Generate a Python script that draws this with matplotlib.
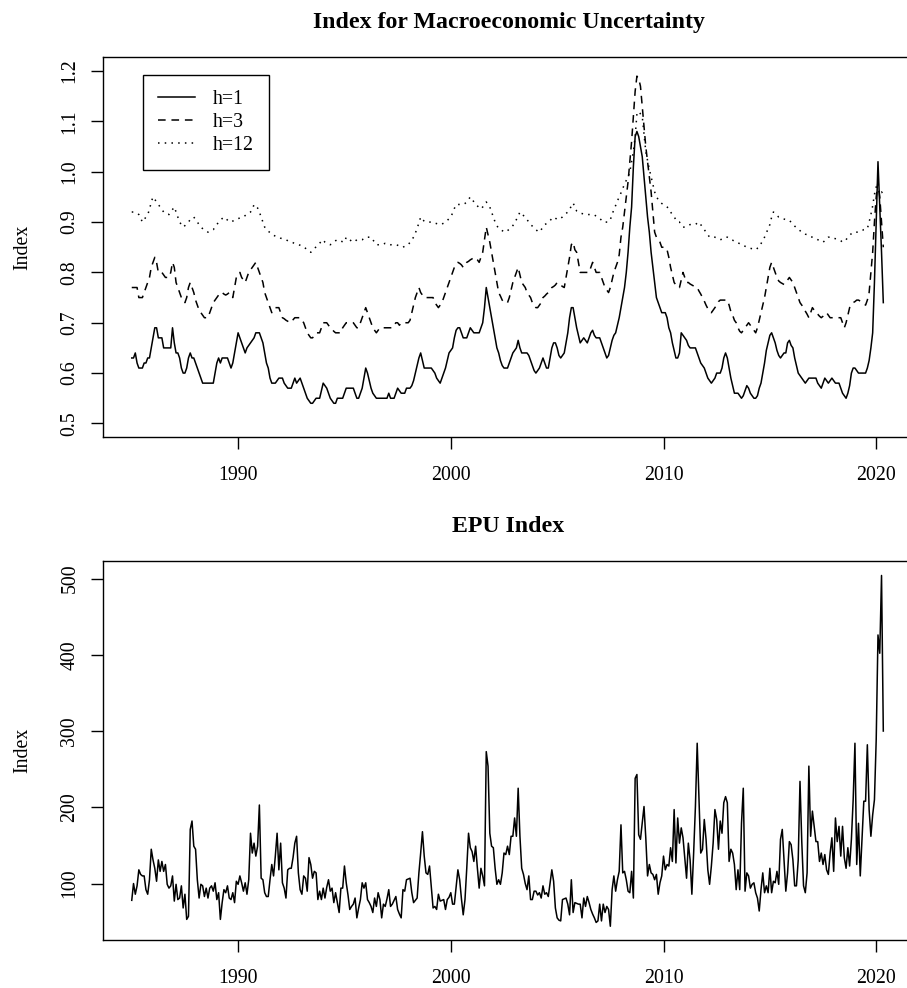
#!/usr/bin/env python3

import numpy as np
import matplotlib
matplotlib.use('Agg')
import matplotlib.pyplot as plt

plt.rcParams['font.family'] = ['Liberation Serif', 'DejaVu Serif']

# monthly values from Jan 1985 to May 2020, one row per year
h1 = [
    0.63, 0.63, 0.64, 0.62, 0.61, 0.61, 0.61, 0.62, 0.62, 0.63, 0.63, 0.65,
    0.67, 0.69, 0.69, 0.67, 0.67, 0.67, 0.65, 0.65, 0.65, 0.65, 0.65, 0.69,
    0.66, 0.64, 0.64, 0.63, 0.61, 0.60, 0.60, 0.61, 0.63, 0.64, 0.63, 0.63,
    0.62, 0.61, 0.60, 0.59, 0.58, 0.58, 0.58, 0.58, 0.58, 0.58, 0.58, 0.60,
    0.62, 0.63, 0.62, 0.63, 0.63, 0.63, 0.63, 0.62, 0.61, 0.62, 0.64, 0.66,
    0.68, 0.67, 0.66, 0.65, 0.64, 0.65, 0.655, 0.66, 0.665, 0.67, 0.68, 0.68,
    0.68, 0.67, 0.66, 0.64, 0.62, 0.61, 0.59, 0.58, 0.58, 0.58, 0.585, 0.59,
    0.59, 0.59, 0.58, 0.575, 0.57, 0.57, 0.57, 0.58, 0.59, 0.58, 0.585, 0.59,
    0.58, 0.57, 0.56, 0.55, 0.545, 0.54, 0.54, 0.545, 0.55, 0.55, 0.55, 0.565,
    0.58, 0.575, 0.57, 0.56, 0.55, 0.545, 0.54, 0.54, 0.55, 0.55, 0.55, 0.55,
    0.56, 0.57, 0.57, 0.57, 0.57, 0.57, 0.56, 0.55, 0.55, 0.56, 0.57, 0.59,
    0.61, 0.60, 0.585, 0.57, 0.56, 0.555, 0.55, 0.55, 0.55, 0.55, 0.55, 0.55,
    0.55, 0.56, 0.55, 0.55, 0.55, 0.56, 0.57, 0.565, 0.56, 0.56, 0.56, 0.57,
    0.57, 0.57, 0.575, 0.585, 0.60, 0.615, 0.63, 0.64, 0.625, 0.61, 0.61, 0.61,
    0.61, 0.61, 0.605, 0.60, 0.59, 0.585, 0.58, 0.59, 0.60, 0.61, 0.625, 0.64,
    0.645, 0.65, 0.67, 0.685, 0.69, 0.69, 0.68, 0.67, 0.67, 0.67, 0.68, 0.69,
    0.685, 0.68, 0.68, 0.68, 0.68, 0.69, 0.70, 0.73, 0.77, 0.75, 0.73, 0.71,
    0.69, 0.67, 0.65, 0.64, 0.625, 0.615, 0.61, 0.61, 0.61, 0.62, 0.63, 0.64,
    0.645, 0.65, 0.665, 0.65, 0.64, 0.64, 0.64, 0.64, 0.635, 0.625, 0.615, 0.605,
    0.60, 0.605, 0.61, 0.62, 0.63, 0.62, 0.61, 0.61, 0.63, 0.65, 0.66, 0.66,
    0.65, 0.635, 0.63, 0.635, 0.64, 0.66, 0.68, 0.71, 0.73, 0.73, 0.71, 0.69,
    0.675, 0.66, 0.665, 0.67, 0.665, 0.66, 0.67, 0.68, 0.685, 0.675, 0.67, 0.67,
    0.67, 0.66, 0.65, 0.64, 0.63, 0.635, 0.65, 0.665, 0.675, 0.68, 0.695, 0.71,
    0.73, 0.75, 0.77, 0.80, 0.84, 0.89, 0.93, 1.01, 1.07, 1.08, 1.07, 1.05,
    1.03, 0.99, 0.95, 0.91, 0.88, 0.84, 0.81, 0.78, 0.75, 0.74, 0.73, 0.72,
    0.72, 0.72, 0.71, 0.69, 0.68, 0.66, 0.645, 0.63, 0.63, 0.64, 0.68, 0.675,
    0.67, 0.665, 0.655, 0.65, 0.65, 0.65, 0.65, 0.64, 0.63, 0.62, 0.615, 0.61,
    0.60, 0.59, 0.585, 0.58, 0.585, 0.59, 0.60, 0.60, 0.60, 0.61, 0.63, 0.64,
    0.63, 0.61, 0.59, 0.575, 0.56, 0.56, 0.56, 0.555, 0.55, 0.555, 0.565, 0.575,
    0.57, 0.56, 0.555, 0.55, 0.55, 0.555, 0.57, 0.58, 0.60, 0.62, 0.645, 0.66,
    0.675, 0.68, 0.67, 0.66, 0.645, 0.635, 0.63, 0.635, 0.64, 0.64, 0.66, 0.665,
    0.655, 0.65, 0.63, 0.615, 0.60, 0.595, 0.59, 0.585, 0.58, 0.585, 0.59, 0.59,
    0.59, 0.59, 0.59, 0.58, 0.575, 0.57, 0.58, 0.59, 0.585, 0.58, 0.585, 0.59,
    0.585, 0.58, 0.58, 0.58, 0.57, 0.56, 0.555, 0.55, 0.56, 0.575, 0.60, 0.61,
    0.61, 0.605, 0.60, 0.60, 0.60, 0.60, 0.60, 0.61, 0.625, 0.65, 0.68, 0.78,
    0.90, 1.02, 0.93, 0.84, 0.74,
]

h3 = [
    0.77, 0.77, 0.77, 0.77, 0.75, 0.75, 0.75, 0.76, 0.77, 0.78, 0.79, 0.81,
    0.82, 0.83, 0.82, 0.80, 0.80, 0.80, 0.795, 0.79, 0.79, 0.79, 0.80, 0.82,
    0.81, 0.78, 0.77, 0.76, 0.75, 0.745, 0.74, 0.75, 0.77, 0.78, 0.77, 0.76,
    0.745, 0.735, 0.725, 0.72, 0.715, 0.71, 0.71, 0.71, 0.72, 0.73, 0.74, 0.745,
    0.75, 0.755, 0.76, 0.76, 0.757, 0.755, 0.757, 0.76, 0.755, 0.75, 0.77, 0.79,
    0.795, 0.80, 0.79, 0.785, 0.78, 0.79, 0.80, 0.805, 0.81, 0.815, 0.82, 0.81,
    0.80, 0.79, 0.78, 0.76, 0.75, 0.74, 0.73, 0.72, 0.725, 0.73, 0.73, 0.73,
    0.72, 0.71, 0.708, 0.705, 0.703, 0.70, 0.703, 0.706, 0.71, 0.71, 0.71, 0.71,
    0.705, 0.70, 0.69, 0.68, 0.675, 0.67, 0.67, 0.675, 0.68, 0.68, 0.68, 0.69,
    0.70, 0.70, 0.70, 0.695, 0.69, 0.687, 0.683, 0.68, 0.68, 0.68, 0.68, 0.69,
    0.695, 0.70, 0.70, 0.70, 0.70, 0.70, 0.695, 0.69, 0.69, 0.70, 0.71, 0.72,
    0.73, 0.72, 0.71, 0.70, 0.69, 0.685, 0.68, 0.685, 0.69, 0.69, 0.69, 0.69,
    0.69, 0.69, 0.69, 0.69, 0.695, 0.70, 0.70, 0.695, 0.70, 0.70, 0.70, 0.70,
    0.70, 0.705, 0.72, 0.735, 0.75, 0.76, 0.77, 0.76, 0.755, 0.75, 0.75, 0.75,
    0.75, 0.75, 0.75, 0.74, 0.735, 0.73, 0.735, 0.74, 0.75, 0.76, 0.77, 0.78,
    0.79, 0.80, 0.81, 0.815, 0.82, 0.818, 0.815, 0.81, 0.815, 0.82, 0.822, 0.825,
    0.827, 0.83, 0.828, 0.825, 0.82, 0.83, 0.84, 0.865, 0.89, 0.875, 0.86, 0.84,
    0.82, 0.80, 0.78, 0.76, 0.753, 0.745, 0.74, 0.74, 0.74, 0.75, 0.765, 0.78,
    0.79, 0.80, 0.81, 0.795, 0.78, 0.775, 0.77, 0.76, 0.755, 0.75, 0.74, 0.735,
    0.73, 0.73, 0.735, 0.74, 0.75, 0.753, 0.757, 0.76, 0.765, 0.77, 0.772, 0.775,
    0.78, 0.777, 0.775, 0.772, 0.77, 0.79, 0.81, 0.83, 0.855, 0.86, 0.845, 0.84,
    0.82, 0.80, 0.80, 0.80, 0.80, 0.80, 0.80, 0.81, 0.82, 0.81, 0.80, 0.80,
    0.80, 0.79, 0.78, 0.77, 0.765, 0.76, 0.77, 0.785, 0.80, 0.81, 0.82, 0.835,
    0.87, 0.89, 0.92, 0.95, 0.98, 1.02, 1.06, 1.11, 1.16, 1.19, 1.185, 1.17,
    1.13, 1.09, 1.05, 1.02, 0.99, 0.96, 0.92, 0.88, 0.87, 0.865, 0.86, 0.85,
    0.85, 0.85, 0.845, 0.83, 0.81, 0.795, 0.78, 0.775, 0.77, 0.77, 0.785, 0.80,
    0.79, 0.78, 0.78, 0.777, 0.775, 0.773, 0.772, 0.77, 0.763, 0.757, 0.75, 0.743,
    0.735, 0.728, 0.722, 0.72, 0.725, 0.73, 0.735, 0.742, 0.745, 0.745, 0.745, 0.745,
    0.745, 0.735, 0.722, 0.715, 0.705, 0.70, 0.69, 0.683, 0.68, 0.685, 0.69, 0.695,
    0.70, 0.695, 0.69, 0.685, 0.68, 0.69, 0.705, 0.72, 0.735, 0.75, 0.77, 0.79,
    0.81, 0.82, 0.81, 0.80, 0.79, 0.783, 0.78, 0.778, 0.776, 0.78, 0.785, 0.79,
    0.785, 0.78, 0.77, 0.76, 0.75, 0.74, 0.735, 0.73, 0.723, 0.717, 0.71, 0.72,
    0.73, 0.725, 0.72, 0.717, 0.713, 0.71, 0.713, 0.717, 0.72, 0.715, 0.71, 0.71,
    0.71, 0.71, 0.71, 0.71, 0.71, 0.70, 0.69, 0.70, 0.715, 0.73, 0.735, 0.74,
    0.742, 0.745, 0.745, 0.743, 0.74, 0.738, 0.735, 0.745, 0.76, 0.80, 0.84, 0.90,
    0.95, 0.98, 0.95, 0.90, 0.85,
]

h12 = [
    0.92, 0.92, 0.918, 0.917, 0.915, 0.908, 0.90, 0.905, 0.91, 0.915, 0.925, 0.94,
    0.95, 0.945, 0.94, 0.935, 0.93, 0.925, 0.92, 0.918, 0.916, 0.915, 0.92, 0.925,
    0.93, 0.92, 0.91, 0.90, 0.895, 0.89, 0.893, 0.897, 0.90, 0.905, 0.907, 0.91,
    0.905, 0.90, 0.895, 0.89, 0.887, 0.884, 0.882, 0.88, 0.882, 0.884, 0.885, 0.89,
    0.895, 0.90, 0.903, 0.907, 0.91, 0.907, 0.904, 0.901, 0.90, 0.902, 0.904, 0.905,
    0.907, 0.908, 0.909, 0.91, 0.913, 0.916, 0.918, 0.92, 0.925, 0.935, 0.932, 0.928,
    0.92, 0.91, 0.90, 0.89, 0.885, 0.882, 0.879, 0.876, 0.874, 0.872, 0.871, 0.87,
    0.868, 0.867, 0.866, 0.865, 0.863, 0.861, 0.86, 0.859, 0.857, 0.856, 0.855, 0.854,
    0.852, 0.851, 0.848, 0.845, 0.842, 0.84, 0.843, 0.847, 0.851, 0.855, 0.858, 0.862,
    0.865, 0.86, 0.858, 0.856, 0.855, 0.857, 0.86, 0.863, 0.865, 0.864, 0.862, 0.861,
    0.86, 0.87, 0.868, 0.865, 0.862, 0.86, 0.862, 0.865, 0.865, 0.865, 0.865, 0.867,
    0.87, 0.87, 0.87, 0.87, 0.865, 0.86, 0.855, 0.855, 0.855, 0.855, 0.856, 0.858,
    0.858, 0.856, 0.855, 0.855, 0.855, 0.855, 0.854, 0.852, 0.851, 0.85, 0.852, 0.854,
    0.855, 0.86, 0.865, 0.87, 0.878, 0.888, 0.898, 0.91, 0.905, 0.902, 0.90, 0.90,
    0.90, 0.90, 0.90, 0.898, 0.897, 0.896, 0.895, 0.896, 0.898, 0.90, 0.903, 0.907,
    0.91, 0.918, 0.927, 0.935, 0.935, 0.935, 0.935, 0.935, 0.937, 0.94, 0.945, 0.95,
    0.946, 0.94, 0.935, 0.932, 0.929, 0.926, 0.93, 0.935, 0.94, 0.935, 0.93, 0.92,
    0.91, 0.90, 0.893, 0.887, 0.885, 0.883, 0.881, 0.88, 0.883, 0.886, 0.889, 0.893,
    0.898, 0.905, 0.912, 0.92, 0.917, 0.913, 0.91, 0.905, 0.90, 0.895, 0.892, 0.888,
    0.885, 0.882, 0.88, 0.885, 0.89, 0.895, 0.897, 0.90, 0.903, 0.907, 0.91, 0.908,
    0.905, 0.906, 0.908, 0.91, 0.913, 0.917, 0.92, 0.925, 0.932, 0.938, 0.93, 0.922,
    0.92, 0.918, 0.917, 0.916, 0.915, 0.915, 0.915, 0.915, 0.915, 0.914, 0.912, 0.91,
    0.907, 0.904, 0.90, 0.90, 0.90, 0.90, 0.905, 0.915, 0.925, 0.933, 0.942, 0.95,
    0.958, 0.967, 0.975, 0.983, 0.99, 1.00, 1.02, 1.04, 1.07, 1.115, 1.12, 1.115,
    1.11, 1.075, 1.04, 1.022, 1.005, 0.99, 0.975, 0.96, 0.95, 0.945, 0.94, 0.937,
    0.935, 0.933, 0.93, 0.927, 0.92, 0.915, 0.91, 0.905, 0.90, 0.90, 0.895, 0.89,
    0.89, 0.892, 0.894, 0.895, 0.895, 0.895, 0.895, 0.898, 0.90, 0.895, 0.89, 0.885,
    0.88, 0.875, 0.87, 0.87, 0.87, 0.87, 0.868, 0.866, 0.865, 0.866, 0.868, 0.87,
    0.87, 0.868, 0.865, 0.864, 0.862, 0.86, 0.859, 0.857, 0.855, 0.854, 0.852, 0.85,
    0.849, 0.848, 0.847, 0.846, 0.845, 0.848, 0.85, 0.857, 0.864, 0.87, 0.878, 0.887,
    0.895, 0.91, 0.92, 0.917, 0.913, 0.91, 0.909, 0.907, 0.906, 0.905, 0.905, 0.903,
    0.90, 0.896, 0.892, 0.889, 0.886, 0.883, 0.88, 0.878, 0.876, 0.875, 0.873, 0.871,
    0.87, 0.869, 0.867, 0.865, 0.864, 0.862, 0.86, 0.863, 0.867, 0.87, 0.87, 0.87,
    0.868, 0.867, 0.866, 0.865, 0.863, 0.86, 0.862, 0.865, 0.87, 0.874, 0.877, 0.88,
    0.88, 0.88, 0.88, 0.882, 0.883, 0.885, 0.885, 0.887, 0.90, 0.915, 0.932, 0.955,
    0.97, 0.97, 0.955, 0.96, 0.955,
]

epu = [
    78, 100, 86, 97, 118, 112, 110, 110, 92, 86, 105, 145,
    131, 120, 103, 131, 116, 129, 116, 125, 99, 94, 97, 110,
    77, 99, 79, 81, 97, 68, 86, 53, 57, 171, 182, 149,
    145, 105, 81, 99, 97, 83, 94, 81, 94, 97, 90, 101,
    79, 88, 53, 75, 92, 88, 97, 81, 79, 88, 75, 103,
    99, 110, 101, 90, 101, 86, 105, 166, 140, 153, 136, 149,
    203, 107, 105, 88, 83, 83, 105, 125, 110, 136, 166, 118,
    153, 101, 94, 81, 118, 120, 120, 134, 153, 162, 114, 92,
    86, 110, 107, 90, 134, 125, 107, 116, 114, 79, 90, 79,
    94, 81, 95, 105, 90, 94, 75, 88, 75, 62, 94, 94,
    123, 101, 85, 66, 70, 73, 81, 55, 68, 79, 101, 94,
    101, 79, 75, 70, 62, 81, 70, 88, 79, 55, 73, 70,
    80, 92, 70, 73, 78, 83, 66, 60, 55, 92, 90, 105,
    106, 107, 88, 75, 78, 81, 114, 140, 168, 136, 114, 112,
    123, 95, 68, 70, 66, 86, 77, 78, 79, 66, 79, 82,
    88, 73, 73, 95, 118, 105, 80, 59, 79, 120, 166, 147,
    142, 129, 149, 120, 94, 120, 110, 97, 273, 254, 166, 149,
    147, 120, 99, 105, 99, 114, 140, 138, 149, 138, 162, 162,
    186, 162, 225, 162, 120, 112, 100, 92, 110, 79, 79, 90,
    90, 85, 88, 81, 97, 86, 88, 83, 100, 118, 103, 68,
    55, 52, 51, 79, 80, 81, 73, 59, 105, 62, 75, 74,
    73, 73, 55, 81, 70, 83, 75, 66, 60, 55, 49, 51,
    73, 51, 73, 62, 70, 66, 44, 92, 110, 90, 105, 116,
    177, 114, 116, 105, 90, 88, 116, 81, 238, 243, 164, 158,
    179, 201, 160, 110, 125, 114, 112, 105, 112, 86, 101, 110,
    136, 118, 125, 123, 147, 129, 197, 127, 186, 153, 173, 160,
    134, 107, 153, 131, 86, 140, 201, 284, 210, 140, 145, 184,
    158, 118, 99, 123, 153, 197, 184, 145, 182, 166, 206, 214,
    206, 129, 145, 140, 125, 92, 118, 92, 179, 225, 90, 114,
    110, 94, 99, 101, 88, 81, 64, 92, 114, 88, 97, 88,
    120, 88, 103, 101, 116, 99, 158, 171, 131, 90, 114, 155,
    151, 131, 97, 97, 131, 234, 155, 97, 88, 114, 254, 162,
    195, 175, 155, 155, 129, 140, 125, 138, 118, 112, 140, 160,
    116, 186, 155, 175, 136, 175, 134, 120, 147, 123, 158, 210,
    284, 125, 179, 110, 158, 208, 208, 282, 197, 162, 190, 210,
    289, 426, 402, 504, 300,
]

labels = ['h=1', 'h=3', 'h=12']
year_ticks = [1990, 2000, 2010, 2020]
unc_ticks = [0.5, 0.6, 0.7, 0.8, 0.9, 1.0, 1.1, 1.2]
epu_ticks = [100, 200, 300, 400, 500]

t = 1985 + np.arange(len(h1)) / 12.0

def setup_axis(ax, yticks, fmt):
    ax.set_xlim(1983.65, 2021.78)
    ax.set_xticks(year_ticks)
    ax.set_xticklabels([str(y) for y in year_ticks])
    ax.set_yticks(yticks)
    ax.set_yticklabels([fmt % v for v in yticks], rotation=90, va='center')
    ax.tick_params(direction='out', length=8.6, width=1.0, labelsize=14.3)
    ax.tick_params(axis='x', pad=12.5)
    ax.tick_params(axis='y', pad=8.5)
    for s in ax.spines.values():
        s.set_linewidth(1.0)
    ax.set_ylabel('Index', fontsize=14.3)
    ax.yaxis.set_label_coords(-0.087, 0.5)

fig = plt.figure(figsize=(9.07, 9.88), dpi=100)

top = fig.add_axes([0.1136, 0.5577, 0.8942, 0.3846])
top.plot(t, h1, color='black', lw=1.1, label=labels[0])
top.plot(t, h3, color='black', lw=1.1, dashes=(5.0, 3.8), label=labels[1])
top.plot(t, h12, color='black', lw=1.1, dashes=(1.0, 3.4), label=labels[2])
top.set_ylim(0.473, 1.228)
setup_axis(top, unc_ticks, '%.1f')
top.set_title('Index for Macroeconomic Uncertainty', fontsize=17.2,
              fontweight='bold', pad=21)
leg = top.legend(loc='upper left', bbox_to_anchor=(0.049, 0.953),
                 borderaxespad=0, fancybox=False, edgecolor='black',
                 framealpha=1, fontsize=14.3, handlelength=1.9,
                 handletextpad=0.9, labelspacing=0.2, borderpad=0.75)
leg.get_frame().set_linewidth(1.0)

bot = fig.add_axes([0.1136, 0.0486, 0.8942, 0.3836])
bot.plot(t, epu, color='black', lw=1.1)
bot.set_ylim(26, 523)
setup_axis(bot, epu_ticks, '%d')
bot.set_title('EPU Index', fontsize=17.2, fontweight='bold', pad=21)

fig.savefig('out.png', dpi=100)
